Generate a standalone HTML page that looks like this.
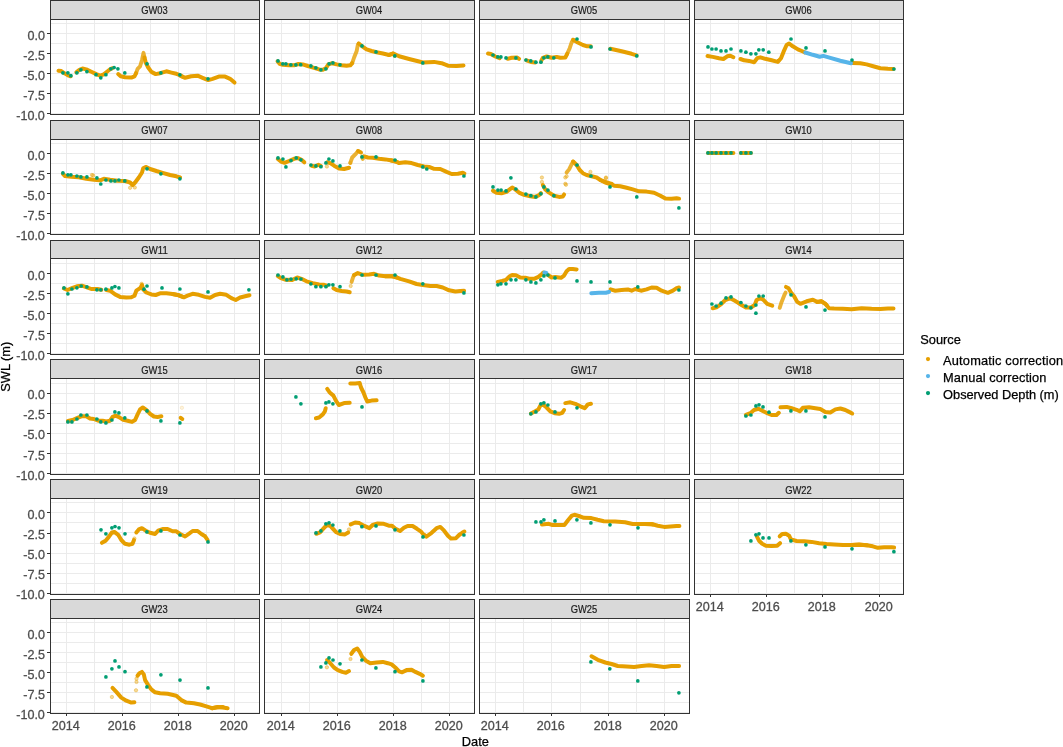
<!DOCTYPE html>
<html><head><meta charset="utf-8"><title>SWL</title>
<style>html,body{margin:0;padding:0;background:#fff}svg{display:block}</style></head>
<body>
<svg width="1063" height="747" viewBox="0 0 1063 747" font-family="&quot;Liberation Sans&quot;, sans-serif">
<rect width="1063" height="747" fill="#fff"/>
<g>
<path d="M50.5 23.5H259.5M50.5 33.5H259.5M50.5 43.5H259.5M50.5 53.5H259.5M50.5 63.5H259.5M50.5 73.5H259.5M50.5 83.5H259.5M50.5 93.5H259.5M50.5 103.5H259.5M50.5 113.5H259.5M66.5 19.5V114.5M94.5 19.5V114.5M122.5 19.5V114.5M150.5 19.5V114.5M178.5 19.5V114.5M206.5 19.5V114.5M234.5 19.5V114.5" stroke="#EBEBEB" stroke-width="1" fill="none" shape-rendering="crispEdges"/>
<clipPath id="c0"><rect x="50.5" y="19.5" width="209.0" height="95.0"/></clipPath>
<g clip-path="url(#c0)">
<polyline points="136.1,73.2 137.6,68.8 140.1,66.3 142.0,60.0 143.5,52.8 144.5,57.5" fill="none" stroke="#E69F00" stroke-opacity="0.8" stroke-width="3.9" stroke-linecap="round" stroke-linejoin="round"/>
<polyline points="58.5,70.7 61.3,71.1 65.0,73.6 68.8,75.7 70.6,76.3" fill="none" stroke="#E69F00" stroke-width="4" stroke-linecap="round" stroke-linejoin="round"/>
<polyline points="76.3,72.3 79.4,69.8 82.5,68.5 86.3,69.4 91.3,71.7 96.3,74.1 100.1,75.7 103.8,74.4 107.6,71.3 110.7,68.8 112.6,68.2" fill="none" stroke="#E69F00" stroke-width="4" stroke-linecap="round" stroke-linejoin="round"/>
<polyline points="118.2,74.1 120.7,76.3 125.1,77.3 131.3,77.6 134.5,76.3 136.1,73.2" fill="none" stroke="#E69F00" stroke-width="4" stroke-linecap="round" stroke-linejoin="round"/>
<polyline points="144.5,57.5 145.7,62.5 148.2,67.5 151.4,71.9 155.7,74.1 160.1,73.2 166.4,71.3 171.4,72.6 176.4,73.8 180.1,75.1 183.0,76.9" fill="none" stroke="#E69F00" stroke-width="4" stroke-linecap="round" stroke-linejoin="round"/>
<polyline points="180.1,75.7 185.1,77.8 191.3,76.3 197.6,75.7 202.6,77.8 208.2,80.1 212.6,78.8 218.8,76.6 225.1,76.6 230.1,78.8 234.5,82.6" fill="none" stroke="#E69F00" stroke-width="4" stroke-linecap="round" stroke-linejoin="round"/>
<circle cx="62.9" cy="72.8" r="1.85" fill="#009E73"/>
<circle cx="67.9" cy="72.8" r="1.85" fill="#009E73"/>
<circle cx="70.9" cy="75.7" r="1.85" fill="#009E73"/>
<circle cx="76.9" cy="72.8" r="1.85" fill="#009E73"/>
<circle cx="80.9" cy="69.8" r="1.85" fill="#009E73"/>
<circle cx="86.9" cy="71.6" r="1.85" fill="#009E73"/>
<circle cx="96.0" cy="74.7" r="1.85" fill="#009E73"/>
<circle cx="100.8" cy="77.8" r="1.85" fill="#009E73"/>
<circle cx="105.9" cy="74.7" r="1.85" fill="#009E73"/>
<circle cx="110.9" cy="68.8" r="1.85" fill="#009E73"/>
<circle cx="114.1" cy="67.5" r="1.85" fill="#009E73"/>
<circle cx="117.9" cy="68.8" r="1.85" fill="#009E73"/>
<circle cx="124.8" cy="72.9" r="1.85" fill="#009E73"/>
<circle cx="147.0" cy="63.8" r="1.85" fill="#009E73"/>
<circle cx="160.9" cy="72.9" r="1.85" fill="#009E73"/>
<circle cx="179.9" cy="74.8" r="1.85" fill="#009E73"/>
<circle cx="208.0" cy="78.8" r="1.85" fill="#009E73"/>
</g>
<rect x="50.5" y="0.5" width="209.0" height="19.0" fill="#D9D9D9" stroke="#333" stroke-width="1" shape-rendering="crispEdges"/>
<rect x="50.5" y="19.5" width="209.0" height="95.0" fill="none" stroke="#333" stroke-width="1" shape-rendering="crispEdges"/>
<text x="154.5" y="14.1" font-size="10.4" fill="#1A1A1A" stroke="#1A1A1A" stroke-width="0.2" text-anchor="middle" textLength="26.5" lengthAdjust="spacingAndGlyphs">GW03</text>
<text x="44.9" y="39.9" font-size="13.1" fill="#4D4D4D" stroke="#4D4D4D" stroke-width="0.3" text-anchor="end" textLength="17.5" lengthAdjust="spacingAndGlyphs">0.0</text>
<text x="44.9" y="59.9" font-size="13.1" fill="#4D4D4D" stroke="#4D4D4D" stroke-width="0.3" text-anchor="end" textLength="21.7" lengthAdjust="spacingAndGlyphs">-2.5</text>
<text x="44.9" y="80.0" font-size="13.1" fill="#4D4D4D" stroke="#4D4D4D" stroke-width="0.3" text-anchor="end" textLength="21.7" lengthAdjust="spacingAndGlyphs">-5.0</text>
<text x="44.9" y="100.0" font-size="13.1" fill="#4D4D4D" stroke="#4D4D4D" stroke-width="0.3" text-anchor="end" textLength="21.7" lengthAdjust="spacingAndGlyphs">-7.5</text>
<text x="44.9" y="120.1" font-size="13.1" fill="#4D4D4D" stroke="#4D4D4D" stroke-width="0.3" text-anchor="end" textLength="28.7" lengthAdjust="spacingAndGlyphs">-10.0</text>
<path d="M47.0 33.5H50.0M47.0 53.5H50.0M47.0 73.5H50.0M47.0 93.5H50.0M47.0 113.5H50.0" stroke="#333" stroke-width="1" shape-rendering="crispEdges"/>
</g>
<g>
<path d="M264.5 23.5H474.5M264.5 33.5H474.5M264.5 43.5H474.5M264.5 53.5H474.5M264.5 63.5H474.5M264.5 73.5H474.5M264.5 83.5H474.5M264.5 93.5H474.5M264.5 103.5H474.5M264.5 113.5H474.5M281.5 19.5V114.5M309.5 19.5V114.5M337.5 19.5V114.5M365.5 19.5V114.5M393.5 19.5V114.5M421.5 19.5V114.5M449.5 19.5V114.5" stroke="#EBEBEB" stroke-width="1" fill="none" shape-rendering="crispEdges"/>
<clipPath id="c1"><rect x="264.5" y="19.5" width="210.0" height="95.0"/></clipPath>
<g clip-path="url(#c1)">
<polyline points="352.2,63.2 354.1,57.5 356.6,51.3 357.8,45.0 358.7,43.5" fill="none" stroke="#E69F00" stroke-opacity="0.8" stroke-width="3.9" stroke-linecap="round" stroke-linejoin="round"/>
<polyline points="277.5,61.3 279.6,63.8 282.8,64.8 289.0,65.3 294.0,65.3 298.4,64.0 302.8,64.4 307.8,66.0 314.1,67.8 319.1,69.4 322.8,69.8 325.9,68.2 328.4,64.4 332.2,63.2 336.6,64.4 341.6,65.3 346.6,65.7 350.3,65.3 352.2,63.2" fill="none" stroke="#E69F00" stroke-width="4" stroke-linecap="round" stroke-linejoin="round"/>
<polyline points="358.7,43.5 362.2,46.3 366.6,49.4 371.6,51.0 376.6,52.3 382.9,53.5 389.1,55.0 392.9,53.5 394.8,55.7" fill="none" stroke="#E69F00" stroke-width="4" stroke-linecap="round" stroke-linejoin="round"/>
<polyline points="389.0,55.0 393.4,53.5 399.1,56.3 409.1,59.0 419.1,61.5 422.8,62.5 434.1,61.9 441.6,63.2 447.9,65.7 456.6,65.9 463.5,65.4" fill="none" stroke="#E69F00" stroke-width="4" stroke-linecap="round" stroke-linejoin="round"/>
<circle cx="278.0" cy="60.9" r="1.85" fill="#009E73"/>
<circle cx="282.8" cy="63.8" r="1.85" fill="#009E73"/>
<circle cx="285.9" cy="63.8" r="1.85" fill="#009E73"/>
<circle cx="290.9" cy="64.8" r="1.85" fill="#009E73"/>
<circle cx="295.9" cy="64.8" r="1.85" fill="#009E73"/>
<circle cx="300.7" cy="64.7" r="1.85" fill="#009E73"/>
<circle cx="310.9" cy="65.9" r="1.85" fill="#009E73"/>
<circle cx="315.9" cy="67.8" r="1.85" fill="#009E73"/>
<circle cx="320.9" cy="69.8" r="1.85" fill="#009E73"/>
<circle cx="325.9" cy="68.8" r="1.85" fill="#009E73"/>
<circle cx="329.1" cy="63.8" r="1.85" fill="#009E73"/>
<circle cx="332.9" cy="62.9" r="1.85" fill="#009E73"/>
<circle cx="340.0" cy="64.8" r="1.85" fill="#009E73"/>
<circle cx="362.0" cy="45.9" r="1.85" fill="#009E73"/>
<circle cx="376.0" cy="51.9" r="1.85" fill="#009E73"/>
<circle cx="394.8" cy="55.9" r="1.85" fill="#009E73"/>
<circle cx="422.8" cy="62.9" r="1.85" fill="#009E73"/>
</g>
<rect x="264.5" y="0.5" width="210.0" height="19.0" fill="#D9D9D9" stroke="#333" stroke-width="1" shape-rendering="crispEdges"/>
<rect x="264.5" y="19.5" width="210.0" height="95.0" fill="none" stroke="#333" stroke-width="1" shape-rendering="crispEdges"/>
<text x="369.0" y="14.1" font-size="10.4" fill="#1A1A1A" stroke="#1A1A1A" stroke-width="0.2" text-anchor="middle" textLength="26.5" lengthAdjust="spacingAndGlyphs">GW04</text>
</g>
<g>
<path d="M479.5 23.5H689.5M479.5 33.5H689.5M479.5 43.5H689.5M479.5 53.5H689.5M479.5 63.5H689.5M479.5 73.5H689.5M479.5 83.5H689.5M479.5 93.5H689.5M479.5 103.5H689.5M479.5 113.5H689.5M495.5 19.5V114.5M523.5 19.5V114.5M551.5 19.5V114.5M580.5 19.5V114.5M608.5 19.5V114.5M636.5 19.5V114.5M664.5 19.5V114.5" stroke="#EBEBEB" stroke-width="1" fill="none" shape-rendering="crispEdges"/>
<clipPath id="c2"><rect x="479.5" y="19.5" width="210.0" height="95.0"/></clipPath>
<g clip-path="url(#c2)">
<polyline points="567.2,53.8 569.7,48.2 571.6,42.5 573.1,39.8" fill="none" stroke="#E69F00" stroke-opacity="0.8" stroke-width="3.9" stroke-linecap="round" stroke-linejoin="round"/>
<polyline points="488.0,53.5 490.9,54.0 495.3,56.5 499.6,58.2" fill="none" stroke="#E69F00" stroke-width="4" stroke-linecap="round" stroke-linejoin="round"/>
<polyline points="507.8,58.8 511.5,57.8 517.2,57.5 519.0,58.8" fill="none" stroke="#E69F00" stroke-width="4" stroke-linecap="round" stroke-linejoin="round"/>
<polyline points="526.5,60.3 530.9,61.9 535.3,62.5" fill="none" stroke="#E69F00" stroke-width="4" stroke-linecap="round" stroke-linejoin="round"/>
<polyline points="541.3,60.7 542.8,57.8 546.6,56.5 551.6,57.8 556.6,56.9 560.3,57.8 565.3,57.5 567.2,53.8" fill="none" stroke="#E69F00" stroke-width="4" stroke-linecap="round" stroke-linejoin="round"/>
<polyline points="573.1,39.8 577.8,42.5 582.9,45.0 587.2,46.3 590.7,46.3" fill="none" stroke="#E69F00" stroke-width="4" stroke-linecap="round" stroke-linejoin="round"/>
<polyline points="610.3,48.8 621.6,51.3 631.6,53.8 636.6,55.3" fill="none" stroke="#E69F00" stroke-width="4" stroke-linecap="round" stroke-linejoin="round"/>
<circle cx="493.0" cy="55.0" r="1.85" fill="#009E73"/>
<circle cx="497.8" cy="56.9" r="1.85" fill="#009E73"/>
<circle cx="500.9" cy="56.9" r="1.85" fill="#009E73"/>
<circle cx="506.0" cy="57.9" r="1.85" fill="#009E73"/>
<circle cx="515.9" cy="57.9" r="1.85" fill="#009E73"/>
<circle cx="525.9" cy="60.0" r="1.85" fill="#009E73"/>
<circle cx="530.8" cy="60.9" r="1.85" fill="#009E73"/>
<circle cx="535.9" cy="62.2" r="1.85" fill="#009E73"/>
<circle cx="540.9" cy="62.2" r="1.85" fill="#009E73"/>
<circle cx="543.9" cy="57.8" r="1.85" fill="#009E73"/>
<circle cx="547.8" cy="56.9" r="1.85" fill="#009E73"/>
<circle cx="553.8" cy="57.8" r="1.85" fill="#009E73"/>
<circle cx="577.0" cy="39.0" r="1.85" fill="#009E73"/>
<circle cx="591.0" cy="46.9" r="1.85" fill="#009E73"/>
<circle cx="610.0" cy="49.0" r="1.85" fill="#009E73"/>
<circle cx="636.8" cy="55.9" r="1.85" fill="#009E73"/>
</g>
<rect x="479.5" y="0.5" width="210.0" height="19.0" fill="#D9D9D9" stroke="#333" stroke-width="1" shape-rendering="crispEdges"/>
<rect x="479.5" y="19.5" width="210.0" height="95.0" fill="none" stroke="#333" stroke-width="1" shape-rendering="crispEdges"/>
<text x="584.0" y="14.1" font-size="10.4" fill="#1A1A1A" stroke="#1A1A1A" stroke-width="0.2" text-anchor="middle" textLength="26.5" lengthAdjust="spacingAndGlyphs">GW05</text>
</g>
<g>
<path d="M694.5 23.5H903.5M694.5 33.5H903.5M694.5 43.5H903.5M694.5 53.5H903.5M694.5 63.5H903.5M694.5 73.5H903.5M694.5 83.5H903.5M694.5 93.5H903.5M694.5 103.5H903.5M694.5 113.5H903.5M710.5 19.5V114.5M738.5 19.5V114.5M766.5 19.5V114.5M794.5 19.5V114.5M822.5 19.5V114.5M851.5 19.5V114.5M879.5 19.5V114.5" stroke="#EBEBEB" stroke-width="1" fill="none" shape-rendering="crispEdges"/>
<clipPath id="c3"><rect x="694.5" y="19.5" width="209.0" height="95.0"/></clipPath>
<g clip-path="url(#c3)">
<polyline points="707.5,56.0 712.8,56.9 719.0,58.2 723.4,59.0 727.2,56.3 730.3,55.7 733.4,57.2" fill="none" stroke="#E69F00" stroke-width="4" stroke-linecap="round" stroke-linejoin="round"/>
<polyline points="740.5,59.0 744.1,60.3 749.1,60.9 754.1,62.2 757.2,58.2 760.3,57.3 765.3,58.8 771.6,60.3 777.8,61.9 781.0,58.2 783.5,51.9 786.6,45.0 789.1,43.5 792.8,46.3 797.9,49.4 802.9,51.5 804.7,52.3" fill="none" stroke="#E69F00" stroke-width="4" stroke-linecap="round" stroke-linejoin="round"/>
<polyline points="852.2,62.9 860.3,63.2 866.6,64.4 874.1,66.5 880.4,68.2 887.9,68.8 893.5,69.0" fill="none" stroke="#E69F00" stroke-width="4" stroke-linecap="round" stroke-linejoin="round"/>
<polyline points="805.3,52.5 812.8,54.8 819.7,56.7 823.4,55.9 830.3,57.9 840.3,60.7 851.0,63.2" fill="none" stroke="#56B4E9" stroke-width="4" stroke-linecap="round" stroke-linejoin="round"/>
<circle cx="708.0" cy="46.9" r="1.85" fill="#009E73"/>
<circle cx="711.9" cy="49.0" r="1.85" fill="#009E73"/>
<circle cx="716.1" cy="49.0" r="1.85" fill="#009E73"/>
<circle cx="721.0" cy="50.9" r="1.85" fill="#009E73"/>
<circle cx="726.0" cy="50.9" r="1.85" fill="#009E73"/>
<circle cx="731.0" cy="49.0" r="1.85" fill="#009E73"/>
<circle cx="740.9" cy="50.9" r="1.85" fill="#009E73"/>
<circle cx="745.9" cy="52.2" r="1.85" fill="#009E73"/>
<circle cx="750.9" cy="53.8" r="1.85" fill="#009E73"/>
<circle cx="755.9" cy="53.8" r="1.85" fill="#009E73"/>
<circle cx="758.8" cy="49.8" r="1.85" fill="#009E73"/>
<circle cx="763.2" cy="49.8" r="1.85" fill="#009E73"/>
<circle cx="768.8" cy="52.2" r="1.85" fill="#009E73"/>
<circle cx="791.0" cy="39.0" r="1.85" fill="#009E73"/>
<circle cx="806.0" cy="47.9" r="1.85" fill="#009E73"/>
<circle cx="825.0" cy="50.9" r="1.85" fill="#009E73"/>
<circle cx="852.0" cy="60.0" r="1.85" fill="#009E73"/>
<circle cx="893.9" cy="69.0" r="1.85" fill="#009E73"/>
</g>
<rect x="694.5" y="0.5" width="209.0" height="19.0" fill="#D9D9D9" stroke="#333" stroke-width="1" shape-rendering="crispEdges"/>
<rect x="694.5" y="19.5" width="209.0" height="95.0" fill="none" stroke="#333" stroke-width="1" shape-rendering="crispEdges"/>
<text x="798.5" y="14.1" font-size="10.4" fill="#1A1A1A" stroke="#1A1A1A" stroke-width="0.2" text-anchor="middle" textLength="26.5" lengthAdjust="spacingAndGlyphs">GW06</text>
</g>
<g>
<path d="M50.5 143.5H259.5M50.5 153.5H259.5M50.5 163.5H259.5M50.5 173.5H259.5M50.5 183.5H259.5M50.5 193.5H259.5M50.5 203.5H259.5M50.5 213.5H259.5M50.5 223.5H259.5M50.5 233.5H259.5M66.5 139.5V234.5M94.5 139.5V234.5M122.5 139.5V234.5M150.5 139.5V234.5M178.5 139.5V234.5M206.5 139.5V234.5M234.5 139.5V234.5" stroke="#EBEBEB" stroke-width="1" fill="none" shape-rendering="crispEdges"/>
<clipPath id="c4"><rect x="50.5" y="139.5" width="209.0" height="95.0"/></clipPath>
<g clip-path="url(#c4)">
<circle cx="91.9" cy="175.0" r="1.7" fill="#E69F00" fill-opacity="0.4" stroke="#E69F00" stroke-opacity="0.45" stroke-width="0.8"/>
<circle cx="93.2" cy="175.4" r="1.7" fill="#E69F00" fill-opacity="0.4" stroke="#E69F00" stroke-opacity="0.45" stroke-width="0.8"/>
<circle cx="130.1" cy="187.8" r="1.7" fill="#E69F00" fill-opacity="0.4" stroke="#E69F00" stroke-opacity="0.45" stroke-width="0.8"/>
<circle cx="134.8" cy="187.5" r="1.7" fill="#E69F00" fill-opacity="0.4" stroke="#E69F00" stroke-opacity="0.45" stroke-width="0.8"/>
<polyline points="62.9,173.8 65.0,176.0 71.3,176.7 78.8,177.3 86.3,178.8 93.8,179.8 100.1,180.3 103.8,178.8 110.1,179.8 117.6,180.7 125.1,181.0 130.1,182.5 132.6,185.0 135.1,182.5 138.8,177.5 142.0,172.5 143.2,168.2 145.7,166.9 150.1,169.0 156.4,171.0 162.6,172.8 170.1,175.0 176.4,176.3 180.1,177.5" fill="none" stroke="#E69F00" stroke-width="4" stroke-linecap="round" stroke-linejoin="round"/>
<circle cx="62.9" cy="172.9" r="1.85" fill="#009E73"/>
<circle cx="67.9" cy="174.8" r="1.85" fill="#009E73"/>
<circle cx="70.9" cy="174.8" r="1.85" fill="#009E73"/>
<circle cx="76.9" cy="176.0" r="1.85" fill="#009E73"/>
<circle cx="80.9" cy="176.9" r="1.85" fill="#009E73"/>
<circle cx="86.9" cy="176.9" r="1.85" fill="#009E73"/>
<circle cx="96.9" cy="177.9" r="1.85" fill="#009E73"/>
<circle cx="100.8" cy="184.0" r="1.85" fill="#009E73"/>
<circle cx="105.9" cy="180.0" r="1.85" fill="#009E73"/>
<circle cx="110.9" cy="180.9" r="1.85" fill="#009E73"/>
<circle cx="114.9" cy="180.9" r="1.85" fill="#009E73"/>
<circle cx="118.9" cy="180.0" r="1.85" fill="#009E73"/>
<circle cx="124.8" cy="180.9" r="1.85" fill="#009E73"/>
<circle cx="147.0" cy="168.8" r="1.85" fill="#009E73"/>
<circle cx="160.9" cy="173.8" r="1.85" fill="#009E73"/>
<circle cx="179.9" cy="178.8" r="1.85" fill="#009E73"/>
</g>
<rect x="50.5" y="120.5" width="209.0" height="19.0" fill="#D9D9D9" stroke="#333" stroke-width="1" shape-rendering="crispEdges"/>
<rect x="50.5" y="139.5" width="209.0" height="95.0" fill="none" stroke="#333" stroke-width="1" shape-rendering="crispEdges"/>
<text x="154.5" y="134.1" font-size="10.4" fill="#1A1A1A" stroke="#1A1A1A" stroke-width="0.2" text-anchor="middle" textLength="26.5" lengthAdjust="spacingAndGlyphs">GW07</text>
<text x="44.9" y="159.7" font-size="13.1" fill="#4D4D4D" stroke="#4D4D4D" stroke-width="0.3" text-anchor="end" textLength="17.5" lengthAdjust="spacingAndGlyphs">0.0</text>
<text x="44.9" y="179.7" font-size="13.1" fill="#4D4D4D" stroke="#4D4D4D" stroke-width="0.3" text-anchor="end" textLength="21.7" lengthAdjust="spacingAndGlyphs">-2.5</text>
<text x="44.9" y="199.8" font-size="13.1" fill="#4D4D4D" stroke="#4D4D4D" stroke-width="0.3" text-anchor="end" textLength="21.7" lengthAdjust="spacingAndGlyphs">-5.0</text>
<text x="44.9" y="219.8" font-size="13.1" fill="#4D4D4D" stroke="#4D4D4D" stroke-width="0.3" text-anchor="end" textLength="21.7" lengthAdjust="spacingAndGlyphs">-7.5</text>
<text x="44.9" y="239.9" font-size="13.1" fill="#4D4D4D" stroke="#4D4D4D" stroke-width="0.3" text-anchor="end" textLength="28.7" lengthAdjust="spacingAndGlyphs">-10.0</text>
<path d="M47.0 153.5H50.0M47.0 173.5H50.0M47.0 193.5H50.0M47.0 213.5H50.0M47.0 233.5H50.0" stroke="#333" stroke-width="1" shape-rendering="crispEdges"/>
</g>
<g>
<path d="M264.5 143.5H474.5M264.5 153.5H474.5M264.5 163.5H474.5M264.5 173.5H474.5M264.5 183.5H474.5M264.5 193.5H474.5M264.5 203.5H474.5M264.5 213.5H474.5M264.5 223.5H474.5M264.5 233.5H474.5M281.5 139.5V234.5M309.5 139.5V234.5M337.5 139.5V234.5M365.5 139.5V234.5M393.5 139.5V234.5M421.5 139.5V234.5M449.5 139.5V234.5" stroke="#EBEBEB" stroke-width="1" fill="none" shape-rendering="crispEdges"/>
<clipPath id="c5"><rect x="264.5" y="139.5" width="210.0" height="95.0"/></clipPath>
<g clip-path="url(#c5)">
<circle cx="326.9" cy="166.5" r="1.7" fill="#E69F00" fill-opacity="0.4" stroke="#E69F00" stroke-opacity="0.45" stroke-width="0.8"/>
<circle cx="350.3" cy="162.9" r="1.7" fill="#E69F00" fill-opacity="0.4" stroke="#E69F00" stroke-opacity="0.45" stroke-width="0.8"/>
<polyline points="350.3,162.9 352.2,157.5 355.3,154.4 358.1,151.0" fill="none" stroke="#E69F00" stroke-opacity="0.8" stroke-width="3.9" stroke-linecap="round" stroke-linejoin="round"/>
<polyline points="362.2,156.9 362.8,159.0" fill="none" stroke="#E69F00" stroke-opacity="0.8" stroke-width="3.9" stroke-linecap="round" stroke-linejoin="round"/>
<polyline points="277.8,159.0 280.9,161.5 284.6,162.8 289.0,161.0 294.0,158.8 297.8,158.1 301.5,159.8 304.3,162.3" fill="none" stroke="#E69F00" stroke-width="4" stroke-linecap="round" stroke-linejoin="round"/>
<polyline points="311.5,165.7 314.7,166.5 318.4,164.8 320.9,166.0" fill="none" stroke="#E69F00" stroke-width="4" stroke-linecap="round" stroke-linejoin="round"/>
<polyline points="327.2,162.3 330.3,163.1 334.1,165.7 339.1,168.5 344.1,169.0 349.1,167.8" fill="none" stroke="#E69F00" stroke-width="4" stroke-linecap="round" stroke-linejoin="round"/>
<polyline points="358.1,151.0 361.0,152.5" fill="none" stroke="#E69F00" stroke-width="4" stroke-linecap="round" stroke-linejoin="round"/>
<polyline points="364.1,156.3 367.9,157.5 372.9,157.8 379.1,158.8 385.4,159.4 390.4,160.3 394.1,161.3 397.0,161.9" fill="none" stroke="#E69F00" stroke-width="4" stroke-linecap="round" stroke-linejoin="round"/>
<polyline points="390.9,160.3 395.3,161.3 399.1,163.1 405.3,162.3 411.6,163.1 417.8,165.0 424.1,166.5 429.1,166.9 434.1,168.8 440.3,169.0 446.6,171.9 451.6,174.0 457.9,173.8 462.9,172.8 464.4,173.5" fill="none" stroke="#E69F00" stroke-width="4" stroke-linecap="round" stroke-linejoin="round"/>
<circle cx="278.0" cy="157.9" r="1.85" fill="#009E73"/>
<circle cx="282.9" cy="159.0" r="1.85" fill="#009E73"/>
<circle cx="285.9" cy="166.9" r="1.85" fill="#009E73"/>
<circle cx="291.0" cy="160.6" r="1.85" fill="#009E73"/>
<circle cx="296.2" cy="157.9" r="1.85" fill="#009E73"/>
<circle cx="300.9" cy="159.8" r="1.85" fill="#009E73"/>
<circle cx="310.9" cy="165.0" r="1.85" fill="#009E73"/>
<circle cx="315.9" cy="165.9" r="1.85" fill="#009E73"/>
<circle cx="320.9" cy="166.7" r="1.85" fill="#009E73"/>
<circle cx="325.9" cy="162.9" r="1.85" fill="#009E73"/>
<circle cx="328.9" cy="159.0" r="1.85" fill="#009E73"/>
<circle cx="332.9" cy="160.9" r="1.85" fill="#009E73"/>
<circle cx="340.0" cy="165.9" r="1.85" fill="#009E73"/>
<circle cx="362.0" cy="156.9" r="1.85" fill="#009E73"/>
<circle cx="376.0" cy="156.9" r="1.85" fill="#009E73"/>
<circle cx="395.0" cy="160.0" r="1.85" fill="#009E73"/>
<circle cx="422.8" cy="166.9" r="1.85" fill="#009E73"/>
<circle cx="426.8" cy="169.0" r="1.85" fill="#009E73"/>
<circle cx="463.9" cy="176.0" r="1.85" fill="#009E73"/>
</g>
<rect x="264.5" y="120.5" width="210.0" height="19.0" fill="#D9D9D9" stroke="#333" stroke-width="1" shape-rendering="crispEdges"/>
<rect x="264.5" y="139.5" width="210.0" height="95.0" fill="none" stroke="#333" stroke-width="1" shape-rendering="crispEdges"/>
<text x="369.0" y="134.1" font-size="10.4" fill="#1A1A1A" stroke="#1A1A1A" stroke-width="0.2" text-anchor="middle" textLength="26.5" lengthAdjust="spacingAndGlyphs">GW08</text>
</g>
<g>
<path d="M479.5 143.5H689.5M479.5 153.5H689.5M479.5 163.5H689.5M479.5 173.5H689.5M479.5 183.5H689.5M479.5 193.5H689.5M479.5 203.5H689.5M479.5 213.5H689.5M479.5 223.5H689.5M479.5 233.5H689.5M495.5 139.5V234.5M523.5 139.5V234.5M551.5 139.5V234.5M580.5 139.5V234.5M608.5 139.5V234.5M636.5 139.5V234.5M664.5 139.5V234.5" stroke="#EBEBEB" stroke-width="1" fill="none" shape-rendering="crispEdges"/>
<clipPath id="c6"><rect x="479.5" y="139.5" width="210.0" height="95.0"/></clipPath>
<g clip-path="url(#c6)">
<circle cx="541.9" cy="177.5" r="1.7" fill="#E69F00" fill-opacity="0.4" stroke="#E69F00" stroke-opacity="0.45" stroke-width="0.8"/>
<circle cx="541.9" cy="181.9" r="1.7" fill="#E69F00" fill-opacity="0.4" stroke="#E69F00" stroke-opacity="0.45" stroke-width="0.8"/>
<circle cx="565.3" cy="183.8" r="1.7" fill="#E69F00" fill-opacity="0.4" stroke="#E69F00" stroke-opacity="0.45" stroke-width="0.8"/>
<circle cx="566.0" cy="184.8" r="1.7" fill="#E69F00" fill-opacity="0.4" stroke="#E69F00" stroke-opacity="0.45" stroke-width="0.8"/>
<circle cx="566.6" cy="176.3" r="1.7" fill="#E69F00" fill-opacity="0.4" stroke="#E69F00" stroke-opacity="0.45" stroke-width="0.8"/>
<circle cx="565.3" cy="177.5" r="1.7" fill="#E69F00" fill-opacity="0.4" stroke="#E69F00" stroke-opacity="0.45" stroke-width="0.8"/>
<circle cx="590.4" cy="171.9" r="1.7" fill="#E69F00" fill-opacity="0.4" stroke="#E69F00" stroke-opacity="0.45" stroke-width="0.8"/>
<circle cx="606.0" cy="177.5" r="1.7" fill="#E69F00" fill-opacity="0.4" stroke="#E69F00" stroke-opacity="0.45" stroke-width="0.8"/>
<circle cx="605.9" cy="178.2" r="1.7" fill="#E69F00" fill-opacity="0.4" stroke="#E69F00" stroke-opacity="0.45" stroke-width="0.8"/>
<polyline points="566.6,172.5 569.1,169.4 571.6,164.4 573.1,161.5" fill="none" stroke="#E69F00" stroke-opacity="0.8" stroke-width="3.9" stroke-linecap="round" stroke-linejoin="round"/>
<polyline points="493.0,190.7 496.5,192.8 501.5,193.2 506.5,191.9 509.7,189.4 512.2,187.5 515.3,189.4 519.0,192.6 524.0,194.8 530.3,196.3 535.3,196.9 539.1,195.1 540.9,193.2" fill="none" stroke="#E69F00" stroke-width="4" stroke-linecap="round" stroke-linejoin="round"/>
<polyline points="542.8,185.0 545.3,189.4 549.1,192.6 554.1,195.7 559.1,196.9 562.8,196.6 564.1,194.4" fill="none" stroke="#E69F00" stroke-width="4" stroke-linecap="round" stroke-linejoin="round"/>
<polyline points="573.1,161.5 576.6,165.0 579.7,170.0 582.9,173.2 586.6,175.0 591.6,176.3 596.6,177.5 600.4,180.0 605.4,181.9 609.1,183.2 612.0,184.0" fill="none" stroke="#E69F00" stroke-width="4" stroke-linecap="round" stroke-linejoin="round"/>
<polyline points="600.3,180.0 605.3,182.5 610.3,184.0 614.1,185.7 620.3,186.3 626.6,187.8 632.8,189.4 639.1,191.3 646.6,191.6 654.1,192.8 660.4,195.7 665.4,198.6 671.6,198.8 676.6,198.2 679.1,198.6" fill="none" stroke="#E69F00" stroke-width="4" stroke-linecap="round" stroke-linejoin="round"/>
<circle cx="493.0" cy="186.9" r="1.85" fill="#009E73"/>
<circle cx="497.9" cy="190.1" r="1.85" fill="#009E73"/>
<circle cx="501.1" cy="190.1" r="1.85" fill="#009E73"/>
<circle cx="506.0" cy="190.9" r="1.85" fill="#009E73"/>
<circle cx="510.9" cy="177.8" r="1.85" fill="#009E73"/>
<circle cx="515.9" cy="189.0" r="1.85" fill="#009E73"/>
<circle cx="525.9" cy="194.1" r="1.85" fill="#009E73"/>
<circle cx="530.9" cy="195.7" r="1.85" fill="#009E73"/>
<circle cx="535.9" cy="196.9" r="1.85" fill="#009E73"/>
<circle cx="540.9" cy="193.8" r="1.85" fill="#009E73"/>
<circle cx="543.9" cy="186.9" r="1.85" fill="#009E73"/>
<circle cx="547.9" cy="190.1" r="1.85" fill="#009E73"/>
<circle cx="553.9" cy="195.7" r="1.85" fill="#009E73"/>
<circle cx="577.0" cy="165.0" r="1.85" fill="#009E73"/>
<circle cx="591.0" cy="176.0" r="1.85" fill="#009E73"/>
<circle cx="610.0" cy="186.9" r="1.85" fill="#009E73"/>
<circle cx="636.8" cy="196.9" r="1.85" fill="#009E73"/>
<circle cx="678.9" cy="207.9" r="1.85" fill="#009E73"/>
</g>
<rect x="479.5" y="120.5" width="210.0" height="19.0" fill="#D9D9D9" stroke="#333" stroke-width="1" shape-rendering="crispEdges"/>
<rect x="479.5" y="139.5" width="210.0" height="95.0" fill="none" stroke="#333" stroke-width="1" shape-rendering="crispEdges"/>
<text x="584.0" y="134.1" font-size="10.4" fill="#1A1A1A" stroke="#1A1A1A" stroke-width="0.2" text-anchor="middle" textLength="26.5" lengthAdjust="spacingAndGlyphs">GW09</text>
</g>
<g>
<path d="M694.5 143.5H903.5M694.5 153.5H903.5M694.5 163.5H903.5M694.5 173.5H903.5M694.5 183.5H903.5M694.5 193.5H903.5M694.5 203.5H903.5M694.5 213.5H903.5M694.5 223.5H903.5M694.5 233.5H903.5M710.5 139.5V234.5M738.5 139.5V234.5M766.5 139.5V234.5M794.5 139.5V234.5M822.5 139.5V234.5M851.5 139.5V234.5M879.5 139.5V234.5" stroke="#EBEBEB" stroke-width="1" fill="none" shape-rendering="crispEdges"/>
<clipPath id="c7"><rect x="694.5" y="139.5" width="209.0" height="95.0"/></clipPath>
<g clip-path="url(#c7)">
<polyline points="708.0,152.9 733.4,152.9" fill="none" stroke="#E69F00" stroke-width="4" stroke-linecap="round" stroke-linejoin="round"/>
<polyline points="740.9,152.9 750.9,152.9" fill="none" stroke="#E69F00" stroke-width="4" stroke-linecap="round" stroke-linejoin="round"/>
<circle cx="708.0" cy="152.9" r="1.85" fill="#009E73"/>
<circle cx="711.9" cy="152.9" r="1.85" fill="#009E73"/>
<circle cx="716.1" cy="152.9" r="1.85" fill="#009E73"/>
<circle cx="721.0" cy="152.9" r="1.85" fill="#009E73"/>
<circle cx="726.0" cy="152.9" r="1.85" fill="#009E73"/>
<circle cx="731.0" cy="152.9" r="1.85" fill="#009E73"/>
<circle cx="740.9" cy="152.9" r="1.85" fill="#009E73"/>
<circle cx="745.9" cy="152.9" r="1.85" fill="#009E73"/>
<circle cx="750.9" cy="152.9" r="1.85" fill="#009E73"/>
</g>
<rect x="694.5" y="120.5" width="209.0" height="19.0" fill="#D9D9D9" stroke="#333" stroke-width="1" shape-rendering="crispEdges"/>
<rect x="694.5" y="139.5" width="209.0" height="95.0" fill="none" stroke="#333" stroke-width="1" shape-rendering="crispEdges"/>
<text x="798.5" y="134.1" font-size="10.4" fill="#1A1A1A" stroke="#1A1A1A" stroke-width="0.2" text-anchor="middle" textLength="26.5" lengthAdjust="spacingAndGlyphs">GW10</text>
</g>
<g>
<path d="M50.5 263.5H259.5M50.5 273.5H259.5M50.5 283.5H259.5M50.5 293.5H259.5M50.5 303.5H259.5M50.5 313.5H259.5M50.5 323.5H259.5M50.5 333.5H259.5M50.5 343.5H259.5M50.5 353.5H259.5M66.5 258.5V354.5M94.5 258.5V354.5M122.5 258.5V354.5M150.5 258.5V354.5M178.5 258.5V354.5M206.5 258.5V354.5M234.5 258.5V354.5" stroke="#EBEBEB" stroke-width="1" fill="none" shape-rendering="crispEdges"/>
<clipPath id="c8"><rect x="50.5" y="258.5" width="209.0" height="96.0"/></clipPath>
<g clip-path="url(#c8)">
<circle cx="141.7" cy="283.8" r="1.7" fill="#E69F00" fill-opacity="0.4" stroke="#E69F00" stroke-opacity="0.45" stroke-width="0.8"/>
<polyline points="63.8,288.5 67.5,290.0 71.9,288.2 76.9,286.3 81.9,285.7 86.9,287.3 91.3,289.0 97.5,289.0 101.3,289.8" fill="none" stroke="#E69F00" stroke-width="4" stroke-linecap="round" stroke-linejoin="round"/>
<polyline points="106.3,290.0 110.1,290.7 115.1,294.4 120.1,296.9 126.3,297.5 131.3,297.3 134.5,295.7 136.3,290.7 140.1,288.2 142.0,285.0 143.2,289.4 146.3,292.5 151.4,294.4 155.7,295.0 160.7,293.2 166.4,293.2 172.6,294.0 178.9,295.3 183.0,296.9" fill="none" stroke="#E69F00" stroke-width="4" stroke-linecap="round" stroke-linejoin="round"/>
<polyline points="172.5,294.0 178.8,295.3 183.8,297.3 187.6,295.7 192.6,293.8 198.8,294.8 205.1,296.9 210.1,297.8 215.1,295.0 220.1,293.8 226.3,294.8 231.4,298.2 235.7,300.0 240.1,297.5 245.1,296.3 249.5,295.3" fill="none" stroke="#E69F00" stroke-width="4" stroke-linecap="round" stroke-linejoin="round"/>
<circle cx="64.0" cy="287.9" r="1.85" fill="#009E73"/>
<circle cx="67.9" cy="293.8" r="1.85" fill="#009E73"/>
<circle cx="71.9" cy="289.0" r="1.85" fill="#009E73"/>
<circle cx="76.9" cy="287.8" r="1.85" fill="#009E73"/>
<circle cx="81.2" cy="286.0" r="1.85" fill="#009E73"/>
<circle cx="86.9" cy="286.9" r="1.85" fill="#009E73"/>
<circle cx="96.9" cy="289.8" r="1.85" fill="#009E73"/>
<circle cx="100.8" cy="289.8" r="1.85" fill="#009E73"/>
<circle cx="105.9" cy="289.2" r="1.85" fill="#009E73"/>
<circle cx="111.9" cy="287.9" r="1.85" fill="#009E73"/>
<circle cx="114.9" cy="286.5" r="1.85" fill="#009E73"/>
<circle cx="118.9" cy="287.9" r="1.85" fill="#009E73"/>
<circle cx="144.0" cy="289.2" r="1.85" fill="#009E73"/>
<circle cx="147.0" cy="286.0" r="1.85" fill="#009E73"/>
<circle cx="162.0" cy="287.9" r="1.85" fill="#009E73"/>
<circle cx="179.9" cy="289.0" r="1.85" fill="#009E73"/>
<circle cx="208.0" cy="291.9" r="1.85" fill="#009E73"/>
<circle cx="248.9" cy="289.8" r="1.85" fill="#009E73"/>
</g>
<rect x="50.5" y="240.5" width="209.0" height="18.0" fill="#D9D9D9" stroke="#333" stroke-width="1" shape-rendering="crispEdges"/>
<rect x="50.5" y="258.5" width="209.0" height="96.0" fill="none" stroke="#333" stroke-width="1" shape-rendering="crispEdges"/>
<text x="154.5" y="254.1" font-size="10.4" fill="#1A1A1A" stroke="#1A1A1A" stroke-width="0.2" text-anchor="middle" textLength="26.5" lengthAdjust="spacingAndGlyphs">GW11</text>
<text x="44.9" y="279.5" font-size="13.1" fill="#4D4D4D" stroke="#4D4D4D" stroke-width="0.3" text-anchor="end" textLength="17.5" lengthAdjust="spacingAndGlyphs">0.0</text>
<text x="44.9" y="299.5" font-size="13.1" fill="#4D4D4D" stroke="#4D4D4D" stroke-width="0.3" text-anchor="end" textLength="21.7" lengthAdjust="spacingAndGlyphs">-2.5</text>
<text x="44.9" y="319.6" font-size="13.1" fill="#4D4D4D" stroke="#4D4D4D" stroke-width="0.3" text-anchor="end" textLength="21.7" lengthAdjust="spacingAndGlyphs">-5.0</text>
<text x="44.9" y="339.7" font-size="13.1" fill="#4D4D4D" stroke="#4D4D4D" stroke-width="0.3" text-anchor="end" textLength="21.7" lengthAdjust="spacingAndGlyphs">-7.5</text>
<text x="44.9" y="359.7" font-size="13.1" fill="#4D4D4D" stroke="#4D4D4D" stroke-width="0.3" text-anchor="end" textLength="28.7" lengthAdjust="spacingAndGlyphs">-10.0</text>
<path d="M47.0 273.5H50.0M47.0 293.5H50.0M47.0 313.5H50.0M47.0 333.5H50.0M47.0 353.5H50.0" stroke="#333" stroke-width="1" shape-rendering="crispEdges"/>
</g>
<g>
<path d="M264.5 263.5H474.5M264.5 273.5H474.5M264.5 283.5H474.5M264.5 293.5H474.5M264.5 303.5H474.5M264.5 313.5H474.5M264.5 323.5H474.5M264.5 333.5H474.5M264.5 343.5H474.5M264.5 353.5H474.5M281.5 258.5V354.5M309.5 258.5V354.5M337.5 258.5V354.5M365.5 258.5V354.5M393.5 258.5V354.5M421.5 258.5V354.5M449.5 258.5V354.5" stroke="#EBEBEB" stroke-width="1" fill="none" shape-rendering="crispEdges"/>
<clipPath id="c9"><rect x="264.5" y="258.5" width="210.0" height="96.0"/></clipPath>
<g clip-path="url(#c9)">
<circle cx="350.7" cy="286.0" r="1.7" fill="#E69F00" fill-opacity="0.4" stroke="#E69F00" stroke-opacity="0.45" stroke-width="0.8"/>
<polyline points="351.6,281.9 352.8,278.1 354.1,275.0" fill="none" stroke="#E69F00" stroke-opacity="0.8" stroke-width="3.9" stroke-linecap="round" stroke-linejoin="round"/>
<polyline points="277.8,276.0 280.9,278.1 285.9,279.8 292.2,280.0 297.2,277.5 301.5,278.8 306.5,281.3 312.8,283.1 319.1,284.4 324.1,284.8 326.6,285.7" fill="none" stroke="#E69F00" stroke-width="4" stroke-linecap="round" stroke-linejoin="round"/>
<polyline points="333.4,288.2 336.6,290.0 341.6,291.0 346.6,291.5 349.7,292.3" fill="none" stroke="#E69F00" stroke-width="4" stroke-linecap="round" stroke-linejoin="round"/>
<polyline points="354.1,275.0 357.8,273.1 362.8,274.8 369.1,274.4 374.1,273.8 379.1,275.6 385.4,276.3 391.6,276.3 397.0,277.5" fill="none" stroke="#E69F00" stroke-width="4" stroke-linecap="round" stroke-linejoin="round"/>
<polyline points="385.3,276.3 394.1,276.3 400.3,278.8 409.1,281.3 416.6,284.0 422.8,285.0 430.3,286.0 436.6,286.0 442.8,287.5 449.1,290.3 455.4,291.5 460.4,291.0 464.1,290.7" fill="none" stroke="#E69F00" stroke-width="4" stroke-linecap="round" stroke-linejoin="round"/>
<circle cx="278.0" cy="275.0" r="1.85" fill="#009E73"/>
<circle cx="282.9" cy="276.9" r="1.85" fill="#009E73"/>
<circle cx="286.9" cy="279.8" r="1.85" fill="#009E73"/>
<circle cx="291.0" cy="279.1" r="1.85" fill="#009E73"/>
<circle cx="296.2" cy="278.8" r="1.85" fill="#009E73"/>
<circle cx="300.9" cy="279.0" r="1.85" fill="#009E73"/>
<circle cx="310.9" cy="283.8" r="1.85" fill="#009E73"/>
<circle cx="315.9" cy="286.7" r="1.85" fill="#009E73"/>
<circle cx="320.9" cy="286.7" r="1.85" fill="#009E73"/>
<circle cx="325.9" cy="286.7" r="1.85" fill="#009E73"/>
<circle cx="328.9" cy="284.8" r="1.85" fill="#009E73"/>
<circle cx="332.9" cy="284.8" r="1.85" fill="#009E73"/>
<circle cx="340.0" cy="286.7" r="1.85" fill="#009E73"/>
<circle cx="362.0" cy="275.0" r="1.85" fill="#009E73"/>
<circle cx="376.0" cy="275.0" r="1.85" fill="#009E73"/>
<circle cx="395.0" cy="275.0" r="1.85" fill="#009E73"/>
<circle cx="422.8" cy="283.8" r="1.85" fill="#009E73"/>
<circle cx="463.9" cy="292.9" r="1.85" fill="#009E73"/>
</g>
<rect x="264.5" y="240.5" width="210.0" height="18.0" fill="#D9D9D9" stroke="#333" stroke-width="1" shape-rendering="crispEdges"/>
<rect x="264.5" y="258.5" width="210.0" height="96.0" fill="none" stroke="#333" stroke-width="1" shape-rendering="crispEdges"/>
<text x="369.0" y="254.1" font-size="10.4" fill="#1A1A1A" stroke="#1A1A1A" stroke-width="0.2" text-anchor="middle" textLength="26.5" lengthAdjust="spacingAndGlyphs">GW12</text>
</g>
<g>
<path d="M479.5 263.5H689.5M479.5 273.5H689.5M479.5 283.5H689.5M479.5 293.5H689.5M479.5 303.5H689.5M479.5 313.5H689.5M479.5 323.5H689.5M479.5 333.5H689.5M479.5 343.5H689.5M479.5 353.5H689.5M495.5 258.5V354.5M523.5 258.5V354.5M551.5 258.5V354.5M580.5 258.5V354.5M608.5 258.5V354.5M636.5 258.5V354.5M664.5 258.5V354.5" stroke="#EBEBEB" stroke-width="1" fill="none" shape-rendering="crispEdges"/>
<clipPath id="c10"><rect x="479.5" y="258.5" width="210.0" height="96.0"/></clipPath>
<g clip-path="url(#c10)">
<polyline points="497.8,281.9 502.1,281.0 505.9,280.0 509.7,276.3 512.2,275.0 515.9,275.3 520.3,277.5 525.3,277.8 529.1,278.8 534.1,278.8 538.4,276.9 541.6,274.4 543.4,272.5 547.8,274.8 551.6,277.5 555.3,276.9 561.0,277.8 564.1,275.6 566.6,271.3 569.1,269.0 572.8,269.0 576.6,269.4" fill="none" stroke="#E69F00" stroke-width="4" stroke-linecap="round" stroke-linejoin="round"/>
<polyline points="610.6,289.4 615.3,290.7 621.6,290.0 627.8,289.4 631.6,290.7 635.3,289.0 641.0,290.7 646.6,289.4 651.6,287.5 656.6,287.8 661.6,290.7 667.9,292.8 672.9,290.7 676.6,288.2 679.1,287.5" fill="none" stroke="#E69F00" stroke-width="4" stroke-linecap="round" stroke-linejoin="round"/>
<polyline points="544.3,272.5 546.3,273.0" fill="none" stroke="#56B4E9" stroke-width="4" stroke-linecap="round" stroke-linejoin="round"/>
<polyline points="591.3,293.2 599.0,292.8 605.9,292.8 609.1,291.9" fill="none" stroke="#56B4E9" stroke-width="4" stroke-linecap="round" stroke-linejoin="round"/>
<circle cx="497.9" cy="284.8" r="1.85" fill="#009E73"/>
<circle cx="500.9" cy="283.8" r="1.85" fill="#009E73"/>
<circle cx="506.0" cy="283.8" r="1.85" fill="#009E73"/>
<circle cx="511.0" cy="279.8" r="1.85" fill="#009E73"/>
<circle cx="515.9" cy="279.8" r="1.85" fill="#009E73"/>
<circle cx="525.9" cy="279.8" r="1.85" fill="#009E73"/>
<circle cx="530.9" cy="281.9" r="1.85" fill="#009E73"/>
<circle cx="535.9" cy="282.9" r="1.85" fill="#009E73"/>
<circle cx="540.9" cy="279.8" r="1.85" fill="#009E73"/>
<circle cx="543.9" cy="275.9" r="1.85" fill="#009E73"/>
<circle cx="547.9" cy="275.0" r="1.85" fill="#009E73"/>
<circle cx="555.0" cy="277.9" r="1.85" fill="#009E73"/>
<circle cx="577.0" cy="280.9" r="1.85" fill="#009E73"/>
<circle cx="591.0" cy="281.9" r="1.85" fill="#009E73"/>
<circle cx="610.0" cy="281.9" r="1.85" fill="#009E73"/>
<circle cx="637.8" cy="286.9" r="1.85" fill="#009E73"/>
<circle cx="678.9" cy="290.0" r="1.85" fill="#009E73"/>
</g>
<rect x="479.5" y="240.5" width="210.0" height="18.0" fill="#D9D9D9" stroke="#333" stroke-width="1" shape-rendering="crispEdges"/>
<rect x="479.5" y="258.5" width="210.0" height="96.0" fill="none" stroke="#333" stroke-width="1" shape-rendering="crispEdges"/>
<text x="584.0" y="254.1" font-size="10.4" fill="#1A1A1A" stroke="#1A1A1A" stroke-width="0.2" text-anchor="middle" textLength="26.5" lengthAdjust="spacingAndGlyphs">GW13</text>
</g>
<g>
<path d="M694.5 263.5H903.5M694.5 273.5H903.5M694.5 283.5H903.5M694.5 293.5H903.5M694.5 303.5H903.5M694.5 313.5H903.5M694.5 323.5H903.5M694.5 333.5H903.5M694.5 343.5H903.5M694.5 353.5H903.5M710.5 258.5V354.5M738.5 258.5V354.5M766.5 258.5V354.5M794.5 258.5V354.5M822.5 258.5V354.5M851.5 258.5V354.5M879.5 258.5V354.5" stroke="#EBEBEB" stroke-width="1" fill="none" shape-rendering="crispEdges"/>
<clipPath id="c11"><rect x="694.5" y="258.5" width="209.0" height="96.0"/></clipPath>
<g clip-path="url(#c11)">
<polyline points="779.7,307.8 781.6,301.9 784.1,295.7 785.6,292.5" fill="none" stroke="#E69F00" stroke-opacity="0.8" stroke-width="3.9" stroke-linecap="round" stroke-linejoin="round"/>
<polyline points="712.8,308.2 716.5,307.3 720.9,304.4 725.3,300.0 730.3,298.2 734.0,300.3 737.8,302.5 741.5,305.0 745.9,307.5 750.9,307.5 754.7,305.0 756.6,300.0 760.3,298.2 763.4,299.8 767.2,303.8 772.2,305.7" fill="none" stroke="#E69F00" stroke-width="4" stroke-linecap="round" stroke-linejoin="round"/>
<polyline points="786.0,286.9 788.5,288.2 791.0,292.5 794.1,296.3 797.2,301.9 800.4,303.8 806.6,301.3 812.9,299.8 817.2,301.9 821.6,301.3 825.4,303.8 827.0,305.7" fill="none" stroke="#E69F00" stroke-width="4" stroke-linecap="round" stroke-linejoin="round"/>
<polyline points="817.2,301.9 821.5,301.3 825.3,303.8 829.1,308.2 834.1,308.5 842.8,308.8 851.6,309.2 861.6,308.2 871.6,308.8 880.4,309.0 887.9,308.5 893.5,308.5" fill="none" stroke="#E69F00" stroke-width="4" stroke-linecap="round" stroke-linejoin="round"/>
<circle cx="711.9" cy="304.0" r="1.85" fill="#009E73"/>
<circle cx="716.1" cy="306.0" r="1.85" fill="#009E73"/>
<circle cx="721.0" cy="303.2" r="1.85" fill="#009E73"/>
<circle cx="726.0" cy="297.9" r="1.85" fill="#009E73"/>
<circle cx="731.0" cy="296.9" r="1.85" fill="#009E73"/>
<circle cx="740.9" cy="302.5" r="1.85" fill="#009E73"/>
<circle cx="745.9" cy="306.0" r="1.85" fill="#009E73"/>
<circle cx="750.9" cy="307.8" r="1.85" fill="#009E73"/>
<circle cx="755.9" cy="305.0" r="1.85" fill="#009E73"/>
<circle cx="755.9" cy="313.2" r="1.85" fill="#009E73"/>
<circle cx="758.9" cy="296.0" r="1.85" fill="#009E73"/>
<circle cx="763.2" cy="296.0" r="1.85" fill="#009E73"/>
<circle cx="791.0" cy="294.8" r="1.85" fill="#009E73"/>
<circle cx="806.0" cy="306.9" r="1.85" fill="#009E73"/>
<circle cx="825.0" cy="310.1" r="1.85" fill="#009E73"/>
</g>
<rect x="694.5" y="240.5" width="209.0" height="18.0" fill="#D9D9D9" stroke="#333" stroke-width="1" shape-rendering="crispEdges"/>
<rect x="694.5" y="258.5" width="209.0" height="96.0" fill="none" stroke="#333" stroke-width="1" shape-rendering="crispEdges"/>
<text x="798.5" y="254.1" font-size="10.4" fill="#1A1A1A" stroke="#1A1A1A" stroke-width="0.2" text-anchor="middle" textLength="26.5" lengthAdjust="spacingAndGlyphs">GW14</text>
</g>
<g>
<path d="M50.5 383.5H259.5M50.5 393.5H259.5M50.5 403.5H259.5M50.5 413.5H259.5M50.5 423.5H259.5M50.5 433.5H259.5M50.5 443.5H259.5M50.5 453.5H259.5M50.5 463.5H259.5M50.5 473.5H259.5M66.5 378.5V474.5M94.5 378.5V474.5M122.5 378.5V474.5M150.5 378.5V474.5M178.5 378.5V474.5M206.5 378.5V474.5M234.5 378.5V474.5" stroke="#EBEBEB" stroke-width="1" fill="none" shape-rendering="crispEdges"/>
<clipPath id="c12"><rect x="50.5" y="378.5" width="209.0" height="96.0"/></clipPath>
<g clip-path="url(#c12)">
<circle cx="181.9" cy="407.8" r="1.7" fill="#E69F00" fill-opacity="0.12" stroke="#E69F00" stroke-opacity="0.2" stroke-width="0.8"/>
<polyline points="67.9,421.0 72.5,420.0 76.9,418.2 81.3,416.3 86.3,416.3 90.0,418.5 93.8,419.0 98.2,420.7 102.6,420.7 106.3,421.5 110.1,420.7 112.6,416.9 115.7,415.7 119.4,417.3 123.2,419.8 127.6,420.7 132.0,421.9 135.1,420.0 137.6,414.4 140.1,409.4 142.8,407.5 146.3,409.8 150.1,413.8 153.9,416.5 157.6,416.9 161.4,416.3" fill="none" stroke="#E69F00" stroke-width="4" stroke-linecap="round" stroke-linejoin="round"/>
<polyline points="180.7,417.8 182.3,419.0" fill="none" stroke="#E69F00" stroke-width="4" stroke-linecap="round" stroke-linejoin="round"/>
<circle cx="67.9" cy="421.9" r="1.85" fill="#009E73"/>
<circle cx="71.9" cy="421.9" r="1.85" fill="#009E73"/>
<circle cx="76.9" cy="419.0" r="1.85" fill="#009E73"/>
<circle cx="80.9" cy="415.0" r="1.85" fill="#009E73"/>
<circle cx="86.9" cy="415.0" r="1.85" fill="#009E73"/>
<circle cx="96.9" cy="419.0" r="1.85" fill="#009E73"/>
<circle cx="100.8" cy="421.9" r="1.85" fill="#009E73"/>
<circle cx="105.9" cy="422.9" r="1.85" fill="#009E73"/>
<circle cx="111.9" cy="420.0" r="1.85" fill="#009E73"/>
<circle cx="114.9" cy="411.9" r="1.85" fill="#009E73"/>
<circle cx="118.9" cy="412.9" r="1.85" fill="#009E73"/>
<circle cx="124.8" cy="417.9" r="1.85" fill="#009E73"/>
<circle cx="147.0" cy="410.9" r="1.85" fill="#009E73"/>
<circle cx="160.9" cy="420.9" r="1.85" fill="#009E73"/>
<circle cx="179.9" cy="422.9" r="1.85" fill="#009E73"/>
</g>
<rect x="50.5" y="359.5" width="209.0" height="19.0" fill="#D9D9D9" stroke="#333" stroke-width="1" shape-rendering="crispEdges"/>
<rect x="50.5" y="378.5" width="209.0" height="96.0" fill="none" stroke="#333" stroke-width="1" shape-rendering="crispEdges"/>
<text x="154.5" y="374.1" font-size="10.4" fill="#1A1A1A" stroke="#1A1A1A" stroke-width="0.2" text-anchor="middle" textLength="26.5" lengthAdjust="spacingAndGlyphs">GW15</text>
<text x="44.9" y="399.3" font-size="13.1" fill="#4D4D4D" stroke="#4D4D4D" stroke-width="0.3" text-anchor="end" textLength="17.5" lengthAdjust="spacingAndGlyphs">0.0</text>
<text x="44.9" y="419.4" font-size="13.1" fill="#4D4D4D" stroke="#4D4D4D" stroke-width="0.3" text-anchor="end" textLength="21.7" lengthAdjust="spacingAndGlyphs">-2.5</text>
<text x="44.9" y="439.4" font-size="13.1" fill="#4D4D4D" stroke="#4D4D4D" stroke-width="0.3" text-anchor="end" textLength="21.7" lengthAdjust="spacingAndGlyphs">-5.0</text>
<text x="44.9" y="459.5" font-size="13.1" fill="#4D4D4D" stroke="#4D4D4D" stroke-width="0.3" text-anchor="end" textLength="21.7" lengthAdjust="spacingAndGlyphs">-7.5</text>
<text x="44.9" y="479.5" font-size="13.1" fill="#4D4D4D" stroke="#4D4D4D" stroke-width="0.3" text-anchor="end" textLength="28.7" lengthAdjust="spacingAndGlyphs">-10.0</text>
<path d="M47.0 393.5H50.0M47.0 413.5H50.0M47.0 433.5H50.0M47.0 453.5H50.0M47.0 473.5H50.0" stroke="#333" stroke-width="1" shape-rendering="crispEdges"/>
</g>
<g>
<path d="M264.5 383.5H474.5M264.5 393.5H474.5M264.5 403.5H474.5M264.5 413.5H474.5M264.5 423.5H474.5M264.5 433.5H474.5M264.5 443.5H474.5M264.5 453.5H474.5M264.5 463.5H474.5M264.5 473.5H474.5M281.5 378.5V474.5M309.5 378.5V474.5M337.5 378.5V474.5M365.5 378.5V474.5M393.5 378.5V474.5M421.5 378.5V474.5M449.5 378.5V474.5" stroke="#EBEBEB" stroke-width="1" fill="none" shape-rendering="crispEdges"/>
<clipPath id="c13"><rect x="264.5" y="378.5" width="210.0" height="96.0"/></clipPath>
<g clip-path="url(#c13)">
<polyline points="315.9,418.2 319.1,417.5 322.8,414.4 324.9,411.3 325.7,408.2" fill="none" stroke="#E69F00" stroke-width="4" stroke-linecap="round" stroke-linejoin="round"/>
<polyline points="327.2,388.8 329.7,392.5 333.4,395.6 335.9,400.6 338.8,405.0 344.1,403.1 349.7,402.8" fill="none" stroke="#E69F00" stroke-width="4" stroke-linecap="round" stroke-linejoin="round"/>
<polyline points="350.3,383.5 355.3,383.5 359.7,383.1 361.0,387.5 363.5,392.5 365.4,397.5 367.2,401.5 371.6,400.6 376.6,400.3" fill="none" stroke="#E69F00" stroke-width="4" stroke-linecap="round" stroke-linejoin="round"/>
<circle cx="295.9" cy="396.9" r="1.85" fill="#009E73"/>
<circle cx="300.9" cy="403.8" r="1.85" fill="#009E73"/>
<circle cx="325.9" cy="402.9" r="1.85" fill="#009E73"/>
<circle cx="328.9" cy="401.9" r="1.85" fill="#009E73"/>
<circle cx="332.9" cy="403.8" r="1.85" fill="#009E73"/>
<circle cx="362.0" cy="406.9" r="1.85" fill="#009E73"/>
</g>
<rect x="264.5" y="359.5" width="210.0" height="19.0" fill="#D9D9D9" stroke="#333" stroke-width="1" shape-rendering="crispEdges"/>
<rect x="264.5" y="378.5" width="210.0" height="96.0" fill="none" stroke="#333" stroke-width="1" shape-rendering="crispEdges"/>
<text x="369.0" y="374.1" font-size="10.4" fill="#1A1A1A" stroke="#1A1A1A" stroke-width="0.2" text-anchor="middle" textLength="26.5" lengthAdjust="spacingAndGlyphs">GW16</text>
</g>
<g>
<path d="M479.5 383.5H689.5M479.5 393.5H689.5M479.5 403.5H689.5M479.5 413.5H689.5M479.5 423.5H689.5M479.5 433.5H689.5M479.5 443.5H689.5M479.5 453.5H689.5M479.5 463.5H689.5M479.5 473.5H689.5M495.5 378.5V474.5M523.5 378.5V474.5M551.5 378.5V474.5M580.5 378.5V474.5M608.5 378.5V474.5M636.5 378.5V474.5M664.5 378.5V474.5" stroke="#EBEBEB" stroke-width="1" fill="none" shape-rendering="crispEdges"/>
<clipPath id="c14"><rect x="479.5" y="378.5" width="210.0" height="96.0"/></clipPath>
<g clip-path="url(#c14)">
<polyline points="530.9,413.5 535.3,411.3 538.4,409.4 540.3,405.7 542.8,404.4 546.6,407.5 550.3,411.3 554.7,413.2 559.1,413.8 562.2,412.8 564.1,410.0" fill="none" stroke="#E69F00" stroke-width="4" stroke-linecap="round" stroke-linejoin="round"/>
<polyline points="565.3,403.1 570.3,402.3 575.3,403.8 580.4,406.3 584.7,408.2 587.9,404.4 591.0,403.8" fill="none" stroke="#E69F00" stroke-width="4" stroke-linecap="round" stroke-linejoin="round"/>
<circle cx="530.9" cy="413.8" r="1.85" fill="#009E73"/>
<circle cx="535.9" cy="411.9" r="1.85" fill="#009E73"/>
<circle cx="540.9" cy="403.8" r="1.85" fill="#009E73"/>
<circle cx="543.9" cy="402.8" r="1.85" fill="#009E73"/>
<circle cx="547.9" cy="405.0" r="1.85" fill="#009E73"/>
<circle cx="555.0" cy="411.9" r="1.85" fill="#009E73"/>
<circle cx="577.0" cy="407.8" r="1.85" fill="#009E73"/>
</g>
<rect x="479.5" y="359.5" width="210.0" height="19.0" fill="#D9D9D9" stroke="#333" stroke-width="1" shape-rendering="crispEdges"/>
<rect x="479.5" y="378.5" width="210.0" height="96.0" fill="none" stroke="#333" stroke-width="1" shape-rendering="crispEdges"/>
<text x="584.0" y="374.1" font-size="10.4" fill="#1A1A1A" stroke="#1A1A1A" stroke-width="0.2" text-anchor="middle" textLength="26.5" lengthAdjust="spacingAndGlyphs">GW17</text>
</g>
<g>
<path d="M694.5 383.5H903.5M694.5 393.5H903.5M694.5 403.5H903.5M694.5 413.5H903.5M694.5 423.5H903.5M694.5 433.5H903.5M694.5 443.5H903.5M694.5 453.5H903.5M694.5 463.5H903.5M694.5 473.5H903.5M710.5 378.5V474.5M738.5 378.5V474.5M766.5 378.5V474.5M794.5 378.5V474.5M822.5 378.5V474.5M851.5 378.5V474.5M879.5 378.5V474.5" stroke="#EBEBEB" stroke-width="1" fill="none" shape-rendering="crispEdges"/>
<clipPath id="c15"><rect x="694.5" y="378.5" width="209.0" height="96.0"/></clipPath>
<g clip-path="url(#c15)">
<polyline points="745.9,414.8 750.3,413.2 754.0,410.0 758.4,408.8 762.8,411.0 767.8,413.5 771.5,415.0 776.5,415.0 778.8,412.8" fill="none" stroke="#E69F00" stroke-width="4" stroke-linecap="round" stroke-linejoin="round"/>
<polyline points="780.5,407.3 786.6,406.9 791.6,408.2 796.6,409.8 799.7,411.3 802.8,407.8 809.1,407.3 815.3,408.2 820.3,409.0 825.3,411.9 830.3,412.5 835.4,409.4 840.4,408.5 845.4,410.0 849.1,411.9 852.2,413.5" fill="none" stroke="#E69F00" stroke-width="4" stroke-linecap="round" stroke-linejoin="round"/>
<circle cx="745.9" cy="416.0" r="1.85" fill="#009E73"/>
<circle cx="750.9" cy="415.0" r="1.85" fill="#009E73"/>
<circle cx="755.9" cy="405.9" r="1.85" fill="#009E73"/>
<circle cx="759.0" cy="404.8" r="1.85" fill="#009E73"/>
<circle cx="763.0" cy="406.9" r="1.85" fill="#009E73"/>
<circle cx="769.0" cy="412.2" r="1.85" fill="#009E73"/>
<circle cx="790.9" cy="410.9" r="1.85" fill="#009E73"/>
<circle cx="805.9" cy="410.9" r="1.85" fill="#009E73"/>
<circle cx="825.0" cy="416.9" r="1.85" fill="#009E73"/>
</g>
<rect x="694.5" y="359.5" width="209.0" height="19.0" fill="#D9D9D9" stroke="#333" stroke-width="1" shape-rendering="crispEdges"/>
<rect x="694.5" y="378.5" width="209.0" height="96.0" fill="none" stroke="#333" stroke-width="1" shape-rendering="crispEdges"/>
<text x="798.5" y="374.1" font-size="10.4" fill="#1A1A1A" stroke="#1A1A1A" stroke-width="0.2" text-anchor="middle" textLength="26.5" lengthAdjust="spacingAndGlyphs">GW18</text>
</g>
<g>
<path d="M50.5 502.5H259.5M50.5 512.5H259.5M50.5 522.5H259.5M50.5 532.5H259.5M50.5 543.5H259.5M50.5 553.5H259.5M50.5 563.5H259.5M50.5 573.5H259.5M50.5 583.5H259.5M50.5 593.5H259.5M66.5 498.5V594.5M94.5 498.5V594.5M122.5 498.5V594.5M150.5 498.5V594.5M178.5 498.5V594.5M206.5 498.5V594.5M234.5 498.5V594.5" stroke="#EBEBEB" stroke-width="1" fill="none" shape-rendering="crispEdges"/>
<clipPath id="c16"><rect x="50.5" y="498.5" width="209.0" height="96.0"/></clipPath>
<g clip-path="url(#c16)">
<circle cx="134.4" cy="538.5" r="1.7" fill="#E69F00" fill-opacity="0.4" stroke="#E69F00" stroke-opacity="0.45" stroke-width="0.8"/>
<polyline points="101.9,542.8 105.6,540.7 108.8,536.9 111.9,532.5 114.4,531.9 118.2,534.8 121.3,540.0 125.0,543.8 129.4,544.7 132.5,543.8 134.0,540.0" fill="none" stroke="#E69F00" stroke-width="4" stroke-linecap="round" stroke-linejoin="round"/>
<polyline points="136.3,532.5 138.8,529.4 141.9,528.2 145.7,530.7 150.1,532.8 155.1,534.0 158.2,530.7 162.6,529.0 167.6,529.0 172.6,531.3 176.3,531.3 180.1,534.0 185.1,536.5 188.8,533.8 192.6,531.0 197.6,531.0 201.4,534.0 205.1,536.3 207.6,540.0" fill="none" stroke="#E69F00" stroke-width="4" stroke-linecap="round" stroke-linejoin="round"/>
<circle cx="101.0" cy="529.8" r="1.85" fill="#009E73"/>
<circle cx="105.9" cy="533.8" r="1.85" fill="#009E73"/>
<circle cx="111.9" cy="527.8" r="1.85" fill="#009E73"/>
<circle cx="115.0" cy="526.5" r="1.85" fill="#009E73"/>
<circle cx="119.0" cy="527.8" r="1.85" fill="#009E73"/>
<circle cx="125.0" cy="533.8" r="1.85" fill="#009E73"/>
<circle cx="146.9" cy="531.9" r="1.85" fill="#009E73"/>
<circle cx="160.9" cy="530.9" r="1.85" fill="#009E73"/>
<circle cx="180.0" cy="535.0" r="1.85" fill="#009E73"/>
<circle cx="208.0" cy="541.9" r="1.85" fill="#009E73"/>
</g>
<rect x="50.5" y="479.5" width="209.0" height="19.0" fill="#D9D9D9" stroke="#333" stroke-width="1" shape-rendering="crispEdges"/>
<rect x="50.5" y="498.5" width="209.0" height="96.0" fill="none" stroke="#333" stroke-width="1" shape-rendering="crispEdges"/>
<text x="154.5" y="494.1" font-size="10.4" fill="#1A1A1A" stroke="#1A1A1A" stroke-width="0.2" text-anchor="middle" textLength="26.5" lengthAdjust="spacingAndGlyphs">GW19</text>
<text x="44.9" y="519.1" font-size="13.1" fill="#4D4D4D" stroke="#4D4D4D" stroke-width="0.3" text-anchor="end" textLength="17.5" lengthAdjust="spacingAndGlyphs">0.0</text>
<text x="44.9" y="539.2" font-size="13.1" fill="#4D4D4D" stroke="#4D4D4D" stroke-width="0.3" text-anchor="end" textLength="21.7" lengthAdjust="spacingAndGlyphs">-2.5</text>
<text x="44.9" y="559.2" font-size="13.1" fill="#4D4D4D" stroke="#4D4D4D" stroke-width="0.3" text-anchor="end" textLength="21.7" lengthAdjust="spacingAndGlyphs">-5.0</text>
<text x="44.9" y="579.3" font-size="13.1" fill="#4D4D4D" stroke="#4D4D4D" stroke-width="0.3" text-anchor="end" textLength="21.7" lengthAdjust="spacingAndGlyphs">-7.5</text>
<text x="44.9" y="599.4" font-size="13.1" fill="#4D4D4D" stroke="#4D4D4D" stroke-width="0.3" text-anchor="end" textLength="28.7" lengthAdjust="spacingAndGlyphs">-10.0</text>
<path d="M47.0 512.5H50.0M47.0 533.5H50.0M47.0 553.5H50.0M47.0 573.5H50.0M47.0 593.5H50.0" stroke="#333" stroke-width="1" shape-rendering="crispEdges"/>
</g>
<g>
<path d="M264.5 502.5H474.5M264.5 512.5H474.5M264.5 522.5H474.5M264.5 532.5H474.5M264.5 543.5H474.5M264.5 553.5H474.5M264.5 563.5H474.5M264.5 573.5H474.5M264.5 583.5H474.5M264.5 593.5H474.5M281.5 498.5V594.5M309.5 498.5V594.5M337.5 498.5V594.5M365.5 498.5V594.5M393.5 498.5V594.5M421.5 498.5V594.5M449.5 498.5V594.5" stroke="#EBEBEB" stroke-width="1" fill="none" shape-rendering="crispEdges"/>
<clipPath id="c17"><rect x="264.5" y="498.5" width="210.0" height="96.0"/></clipPath>
<g clip-path="url(#c17)">
<circle cx="349.0" cy="529.4" r="1.7" fill="#E69F00" fill-opacity="0.4" stroke="#E69F00" stroke-opacity="0.45" stroke-width="0.8"/>
<polyline points="316.3,533.8 320.0,532.3 323.8,528.2 326.9,525.0 330.0,525.7 333.2,529.0 336.3,532.3 340.0,534.0 345.0,534.4 348.2,532.5" fill="none" stroke="#E69F00" stroke-width="4" stroke-linecap="round" stroke-linejoin="round"/>
<polyline points="350.7,524.4 355.1,522.5 359.4,523.1 363.8,525.7 369.4,528.2 372.6,525.0 377.6,523.5 383.8,523.8 388.8,525.7 392.0,525.7 395.1,528.5 400.1,531.0 403.9,527.8 407.6,526.0 412.6,526.0 417.0,528.8 420.7,531.3 423.9,535.0 426.4,536.5" fill="none" stroke="#E69F00" stroke-width="4" stroke-linecap="round" stroke-linejoin="round"/>
<polyline points="424.1,535.0 426.6,536.5 431.6,532.8 436.6,528.2 440.3,526.9 444.1,530.7 447.9,535.7 451.0,538.5 456.0,538.2 459.1,535.0 462.2,532.8 464.4,531.5" fill="none" stroke="#E69F00" stroke-width="4" stroke-linecap="round" stroke-linejoin="round"/>
<circle cx="316.0" cy="532.9" r="1.85" fill="#009E73"/>
<circle cx="320.9" cy="530.9" r="1.85" fill="#009E73"/>
<circle cx="325.9" cy="523.8" r="1.85" fill="#009E73"/>
<circle cx="329.0" cy="522.8" r="1.85" fill="#009E73"/>
<circle cx="332.9" cy="525.0" r="1.85" fill="#009E73"/>
<circle cx="339.9" cy="530.9" r="1.85" fill="#009E73"/>
<circle cx="361.9" cy="526.7" r="1.85" fill="#009E73"/>
<circle cx="376.0" cy="525.9" r="1.85" fill="#009E73"/>
<circle cx="395.0" cy="529.8" r="1.85" fill="#009E73"/>
<circle cx="423.0" cy="536.9" r="1.85" fill="#009E73"/>
<circle cx="463.9" cy="535.0" r="1.85" fill="#009E73"/>
</g>
<rect x="264.5" y="479.5" width="210.0" height="19.0" fill="#D9D9D9" stroke="#333" stroke-width="1" shape-rendering="crispEdges"/>
<rect x="264.5" y="498.5" width="210.0" height="96.0" fill="none" stroke="#333" stroke-width="1" shape-rendering="crispEdges"/>
<text x="369.0" y="494.1" font-size="10.4" fill="#1A1A1A" stroke="#1A1A1A" stroke-width="0.2" text-anchor="middle" textLength="26.5" lengthAdjust="spacingAndGlyphs">GW20</text>
</g>
<g>
<path d="M479.5 502.5H689.5M479.5 512.5H689.5M479.5 522.5H689.5M479.5 532.5H689.5M479.5 543.5H689.5M479.5 553.5H689.5M479.5 563.5H689.5M479.5 573.5H689.5M479.5 583.5H689.5M479.5 593.5H689.5M495.5 498.5V594.5M523.5 498.5V594.5M551.5 498.5V594.5M580.5 498.5V594.5M608.5 498.5V594.5M636.5 498.5V594.5M664.5 498.5V594.5" stroke="#EBEBEB" stroke-width="1" fill="none" shape-rendering="crispEdges"/>
<clipPath id="c18"><rect x="479.5" y="498.5" width="210.0" height="96.0"/></clipPath>
<g clip-path="url(#c18)">
<polyline points="541.9,524.4 548.8,523.8 552.5,525.0 564.4,525.0 568.2,520.0 571.9,515.6 574.4,514.8 578.8,516.0 583.8,517.8 591.3,518.1 597.6,519.8 603.8,521.3 615.1,521.5 625.1,522.3 632.6,524.0 645.1,524.0 653.0,524.4" fill="none" stroke="#E69F00" stroke-width="4" stroke-linecap="round" stroke-linejoin="round"/>
<polyline points="634.1,524.0 651.6,524.0 657.8,525.7 664.1,526.9 670.4,526.5 676.6,526.0 679.4,526.0" fill="none" stroke="#E69F00" stroke-width="4" stroke-linecap="round" stroke-linejoin="round"/>
<circle cx="535.9" cy="521.9" r="1.85" fill="#009E73"/>
<circle cx="541.0" cy="521.9" r="1.85" fill="#009E73"/>
<circle cx="543.9" cy="519.8" r="1.85" fill="#009E73"/>
<circle cx="555.0" cy="520.9" r="1.85" fill="#009E73"/>
<circle cx="576.9" cy="519.8" r="1.85" fill="#009E73"/>
<circle cx="590.9" cy="522.9" r="1.85" fill="#009E73"/>
<circle cx="610.0" cy="524.8" r="1.85" fill="#009E73"/>
<circle cx="638.0" cy="527.8" r="1.85" fill="#009E73"/>
</g>
<rect x="479.5" y="479.5" width="210.0" height="19.0" fill="#D9D9D9" stroke="#333" stroke-width="1" shape-rendering="crispEdges"/>
<rect x="479.5" y="498.5" width="210.0" height="96.0" fill="none" stroke="#333" stroke-width="1" shape-rendering="crispEdges"/>
<text x="584.0" y="494.1" font-size="10.4" fill="#1A1A1A" stroke="#1A1A1A" stroke-width="0.2" text-anchor="middle" textLength="26.5" lengthAdjust="spacingAndGlyphs">GW21</text>
</g>
<g>
<path d="M694.5 502.5H903.5M694.5 512.5H903.5M694.5 522.5H903.5M694.5 532.5H903.5M694.5 543.5H903.5M694.5 553.5H903.5M694.5 563.5H903.5M694.5 573.5H903.5M694.5 583.5H903.5M694.5 593.5H903.5M710.5 498.5V594.5M738.5 498.5V594.5M766.5 498.5V594.5M794.5 498.5V594.5M822.5 498.5V594.5M851.5 498.5V594.5M879.5 498.5V594.5" stroke="#EBEBEB" stroke-width="1" fill="none" shape-rendering="crispEdges"/>
<clipPath id="c19"><rect x="694.5" y="498.5" width="209.0" height="96.0"/></clipPath>
<g clip-path="url(#c19)">
<polyline points="757.1,536.9 759.0,540.7 762.2,543.8 765.9,545.7 771.5,546.0 777.2,545.7 780.0,543.2" fill="none" stroke="#E69F00" stroke-width="4" stroke-linecap="round" stroke-linejoin="round"/>
<polyline points="779.7,536.3 782.2,534.0 785.9,533.8 789.1,535.7 790.9,539.4 796.6,541.0 804.1,541.3 811.6,541.9 819.1,543.2 826.6,544.0 834.1,544.4 842.9,545.0 851.6,545.0 859.1,544.8 867.0,545.3" fill="none" stroke="#E69F00" stroke-width="4" stroke-linecap="round" stroke-linejoin="round"/>
<polyline points="851.6,545.0 859.1,544.4 866.6,545.3 872.8,546.3 877.9,547.8 884.1,547.3 891.6,547.3 894.1,547.5" fill="none" stroke="#E69F00" stroke-width="4" stroke-linecap="round" stroke-linejoin="round"/>
<circle cx="750.9" cy="540.9" r="1.85" fill="#009E73"/>
<circle cx="755.9" cy="534.8" r="1.85" fill="#009E73"/>
<circle cx="759.0" cy="533.8" r="1.85" fill="#009E73"/>
<circle cx="763.0" cy="537.9" r="1.85" fill="#009E73"/>
<circle cx="769.0" cy="537.9" r="1.85" fill="#009E73"/>
<circle cx="790.9" cy="540.9" r="1.85" fill="#009E73"/>
<circle cx="805.9" cy="544.8" r="1.85" fill="#009E73"/>
<circle cx="825.0" cy="546.9" r="1.85" fill="#009E73"/>
<circle cx="852.0" cy="548.8" r="1.85" fill="#009E73"/>
<circle cx="893.9" cy="551.7" r="1.85" fill="#009E73"/>
</g>
<rect x="694.5" y="479.5" width="209.0" height="19.0" fill="#D9D9D9" stroke="#333" stroke-width="1" shape-rendering="crispEdges"/>
<rect x="694.5" y="498.5" width="209.0" height="96.0" fill="none" stroke="#333" stroke-width="1" shape-rendering="crispEdges"/>
<text x="798.5" y="494.1" font-size="10.4" fill="#1A1A1A" stroke="#1A1A1A" stroke-width="0.2" text-anchor="middle" textLength="26.5" lengthAdjust="spacingAndGlyphs">GW22</text>
<text x="709.7" y="610.8" font-size="13.1" fill="#4D4D4D" stroke="#4D4D4D" stroke-width="0.3" text-anchor="middle" textLength="28" lengthAdjust="spacingAndGlyphs">2014</text>
<text x="765.7" y="610.8" font-size="13.1" fill="#4D4D4D" stroke="#4D4D4D" stroke-width="0.3" text-anchor="middle" textLength="28" lengthAdjust="spacingAndGlyphs">2016</text>
<text x="821.7" y="610.8" font-size="13.1" fill="#4D4D4D" stroke="#4D4D4D" stroke-width="0.3" text-anchor="middle" textLength="28" lengthAdjust="spacingAndGlyphs">2018</text>
<text x="878.7" y="610.8" font-size="13.1" fill="#4D4D4D" stroke="#4D4D4D" stroke-width="0.3" text-anchor="middle" textLength="28" lengthAdjust="spacingAndGlyphs">2020</text>
<path d="M710.5 595.0V597.0M766.5 595.0V597.0M822.5 595.0V597.0M879.5 595.0V597.0" stroke="#333" stroke-width="1" shape-rendering="crispEdges"/>
</g>
<g>
<path d="M50.5 622.5H259.5M50.5 632.5H259.5M50.5 642.5H259.5M50.5 652.5H259.5M50.5 662.5H259.5M50.5 672.5H259.5M50.5 682.5H259.5M50.5 692.5H259.5M50.5 702.5H259.5M50.5 712.5H259.5M66.5 618.5V713.5M94.5 618.5V713.5M122.5 618.5V713.5M150.5 618.5V713.5M178.5 618.5V713.5M206.5 618.5V713.5M234.5 618.5V713.5" stroke="#EBEBEB" stroke-width="1" fill="none" shape-rendering="crispEdges"/>
<clipPath id="c20"><rect x="50.5" y="618.5" width="209.0" height="95.0"/></clipPath>
<g clip-path="url(#c20)">
<circle cx="111.9" cy="697.0" r="1.7" fill="#E69F00" fill-opacity="0.4" stroke="#E69F00" stroke-opacity="0.45" stroke-width="0.8"/>
<circle cx="136.0" cy="690.3" r="1.7" fill="#E69F00" fill-opacity="0.4" stroke="#E69F00" stroke-opacity="0.45" stroke-width="0.8"/>
<circle cx="136.5" cy="681.9" r="1.7" fill="#E69F00" fill-opacity="0.4" stroke="#E69F00" stroke-opacity="0.45" stroke-width="0.8"/>
<circle cx="136.5" cy="678.8" r="1.7" fill="#E69F00" fill-opacity="0.4" stroke="#E69F00" stroke-opacity="0.45" stroke-width="0.8"/>
<polyline points="112.5,687.9 116.3,691.9 121.3,697.6 126.3,700.7 131.3,702.6 134.4,702.2" fill="none" stroke="#E69F00" stroke-width="4" stroke-linecap="round" stroke-linejoin="round"/>
<polyline points="137.5,675.7 139.4,673.2 141.9,671.9 143.8,674.4 145.1,680.1 148.2,685.1 151.3,689.4 155.1,692.3 160.1,693.2 167.6,693.8 176.3,695.7 181.3,700.1 186.3,702.6 193.9,703.2 200.1,704.5 206.4,706.3 212.0,708.2 217.6,707.3 223.0,707.0" fill="none" stroke="#E69F00" stroke-width="4" stroke-linecap="round" stroke-linejoin="round"/>
<polyline points="212.0,708.2 217.6,707.0 222.6,707.6 227.6,708.2" fill="none" stroke="#E69F00" stroke-width="4" stroke-linecap="round" stroke-linejoin="round"/>
<circle cx="105.9" cy="676.9" r="1.85" fill="#009E73"/>
<circle cx="111.9" cy="668.8" r="1.85" fill="#009E73"/>
<circle cx="115.0" cy="660.9" r="1.85" fill="#009E73"/>
<circle cx="119.0" cy="666.9" r="1.85" fill="#009E73"/>
<circle cx="125.0" cy="671.7" r="1.85" fill="#009E73"/>
<circle cx="146.9" cy="686.9" r="1.85" fill="#009E73"/>
<circle cx="160.9" cy="674.8" r="1.85" fill="#009E73"/>
<circle cx="180.0" cy="680.1" r="1.85" fill="#009E73"/>
<circle cx="208.0" cy="687.9" r="1.85" fill="#009E73"/>
</g>
<rect x="50.5" y="599.5" width="209.0" height="19.0" fill="#D9D9D9" stroke="#333" stroke-width="1" shape-rendering="crispEdges"/>
<rect x="50.5" y="618.5" width="209.0" height="95.0" fill="none" stroke="#333" stroke-width="1" shape-rendering="crispEdges"/>
<text x="154.5" y="613.1" font-size="10.4" fill="#1A1A1A" stroke="#1A1A1A" stroke-width="0.2" text-anchor="middle" textLength="26.5" lengthAdjust="spacingAndGlyphs">GW23</text>
<text x="44.9" y="638.9" font-size="13.1" fill="#4D4D4D" stroke="#4D4D4D" stroke-width="0.3" text-anchor="end" textLength="17.5" lengthAdjust="spacingAndGlyphs">0.0</text>
<text x="44.9" y="659.0" font-size="13.1" fill="#4D4D4D" stroke="#4D4D4D" stroke-width="0.3" text-anchor="end" textLength="21.7" lengthAdjust="spacingAndGlyphs">-2.5</text>
<text x="44.9" y="679.1" font-size="13.1" fill="#4D4D4D" stroke="#4D4D4D" stroke-width="0.3" text-anchor="end" textLength="21.7" lengthAdjust="spacingAndGlyphs">-5.0</text>
<text x="44.9" y="699.1" font-size="13.1" fill="#4D4D4D" stroke="#4D4D4D" stroke-width="0.3" text-anchor="end" textLength="21.7" lengthAdjust="spacingAndGlyphs">-7.5</text>
<text x="44.9" y="719.2" font-size="13.1" fill="#4D4D4D" stroke="#4D4D4D" stroke-width="0.3" text-anchor="end" textLength="28.7" lengthAdjust="spacingAndGlyphs">-10.0</text>
<path d="M47.0 632.5H50.0M47.0 652.5H50.0M47.0 672.5H50.0M47.0 692.5H50.0M47.0 712.5H50.0" stroke="#333" stroke-width="1" shape-rendering="crispEdges"/>
<text x="65.7" y="729.8" font-size="13.1" fill="#4D4D4D" stroke="#4D4D4D" stroke-width="0.3" text-anchor="middle" textLength="28" lengthAdjust="spacingAndGlyphs">2014</text>
<text x="121.7" y="729.8" font-size="13.1" fill="#4D4D4D" stroke="#4D4D4D" stroke-width="0.3" text-anchor="middle" textLength="28" lengthAdjust="spacingAndGlyphs">2016</text>
<text x="177.7" y="729.8" font-size="13.1" fill="#4D4D4D" stroke="#4D4D4D" stroke-width="0.3" text-anchor="middle" textLength="28" lengthAdjust="spacingAndGlyphs">2018</text>
<text x="233.7" y="729.8" font-size="13.1" fill="#4D4D4D" stroke="#4D4D4D" stroke-width="0.3" text-anchor="middle" textLength="28" lengthAdjust="spacingAndGlyphs">2020</text>
<path d="M66.5 714.0V716.0M122.5 714.0V716.0M178.5 714.0V716.0M234.5 714.0V716.0" stroke="#333" stroke-width="1" shape-rendering="crispEdges"/>
</g>
<g>
<path d="M264.5 622.5H474.5M264.5 632.5H474.5M264.5 642.5H474.5M264.5 652.5H474.5M264.5 662.5H474.5M264.5 672.5H474.5M264.5 682.5H474.5M264.5 692.5H474.5M264.5 702.5H474.5M264.5 712.5H474.5M281.5 618.5V713.5M309.5 618.5V713.5M337.5 618.5V713.5M365.5 618.5V713.5M393.5 618.5V713.5M421.5 618.5V713.5M449.5 618.5V713.5" stroke="#EBEBEB" stroke-width="1" fill="none" shape-rendering="crispEdges"/>
<clipPath id="c21"><rect x="264.5" y="618.5" width="210.0" height="95.0"/></clipPath>
<g clip-path="url(#c21)">
<circle cx="326.9" cy="667.3" r="1.7" fill="#E69F00" fill-opacity="0.4" stroke="#E69F00" stroke-opacity="0.45" stroke-width="0.8"/>
<circle cx="350.5" cy="659.0" r="1.7" fill="#E69F00" fill-opacity="0.4" stroke="#E69F00" stroke-opacity="0.45" stroke-width="0.8"/>
<polyline points="327.1,660.0 330.3,663.2 334.0,667.5 337.8,670.1 342.2,671.9 345.9,672.8 349.0,671.1" fill="none" stroke="#E69F00" stroke-width="4" stroke-linecap="round" stroke-linejoin="round"/>
<polyline points="351.3,653.8 354.1,650.0 357.2,648.5 359.7,651.9 362.2,656.9 365.9,660.7 370.3,663.2 376.6,662.5 382.8,661.9 387.8,663.2 391.6,664.4 395.3,667.5 399.1,671.3 402.2,672.3 406.6,670.1 411.6,669.8 415.4,671.9 419.7,673.8 422.9,675.7" fill="none" stroke="#E69F00" stroke-width="4" stroke-linecap="round" stroke-linejoin="round"/>
<circle cx="320.9" cy="666.9" r="1.85" fill="#009E73"/>
<circle cx="325.9" cy="662.9" r="1.85" fill="#009E73"/>
<circle cx="329.0" cy="657.9" r="1.85" fill="#009E73"/>
<circle cx="333.0" cy="660.0" r="1.85" fill="#009E73"/>
<circle cx="340.0" cy="663.8" r="1.85" fill="#009E73"/>
<circle cx="361.9" cy="660.0" r="1.85" fill="#009E73"/>
<circle cx="375.9" cy="667.9" r="1.85" fill="#009E73"/>
<circle cx="395.0" cy="671.7" r="1.85" fill="#009E73"/>
<circle cx="422.9" cy="680.9" r="1.85" fill="#009E73"/>
</g>
<rect x="264.5" y="599.5" width="210.0" height="19.0" fill="#D9D9D9" stroke="#333" stroke-width="1" shape-rendering="crispEdges"/>
<rect x="264.5" y="618.5" width="210.0" height="95.0" fill="none" stroke="#333" stroke-width="1" shape-rendering="crispEdges"/>
<text x="369.0" y="613.1" font-size="10.4" fill="#1A1A1A" stroke="#1A1A1A" stroke-width="0.2" text-anchor="middle" textLength="26.5" lengthAdjust="spacingAndGlyphs">GW24</text>
<text x="280.7" y="729.8" font-size="13.1" fill="#4D4D4D" stroke="#4D4D4D" stroke-width="0.3" text-anchor="middle" textLength="28" lengthAdjust="spacingAndGlyphs">2014</text>
<text x="336.7" y="729.8" font-size="13.1" fill="#4D4D4D" stroke="#4D4D4D" stroke-width="0.3" text-anchor="middle" textLength="28" lengthAdjust="spacingAndGlyphs">2016</text>
<text x="392.7" y="729.8" font-size="13.1" fill="#4D4D4D" stroke="#4D4D4D" stroke-width="0.3" text-anchor="middle" textLength="28" lengthAdjust="spacingAndGlyphs">2018</text>
<text x="448.7" y="729.8" font-size="13.1" fill="#4D4D4D" stroke="#4D4D4D" stroke-width="0.3" text-anchor="middle" textLength="28" lengthAdjust="spacingAndGlyphs">2020</text>
<path d="M281.5 714.0V716.0M337.5 714.0V716.0M393.5 714.0V716.0M449.5 714.0V716.0" stroke="#333" stroke-width="1" shape-rendering="crispEdges"/>
</g>
<g>
<path d="M479.5 622.5H689.5M479.5 632.5H689.5M479.5 642.5H689.5M479.5 652.5H689.5M479.5 662.5H689.5M479.5 672.5H689.5M479.5 682.5H689.5M479.5 692.5H689.5M479.5 702.5H689.5M479.5 712.5H689.5M495.5 618.5V713.5M523.5 618.5V713.5M551.5 618.5V713.5M580.5 618.5V713.5M608.5 618.5V713.5M636.5 618.5V713.5M664.5 618.5V713.5" stroke="#EBEBEB" stroke-width="1" fill="none" shape-rendering="crispEdges"/>
<clipPath id="c22"><rect x="479.5" y="618.5" width="210.0" height="95.0"/></clipPath>
<g clip-path="url(#c22)">
<polyline points="591.5,656.3 597.8,659.8 605.3,662.5 611.6,664.0 617.8,666.0 626.6,666.5 634.1,666.9 641.6,666.0 649.1,665.3 656.6,666.0 664.1,666.9 671.6,666.0 679.1,666.0" fill="none" stroke="#E69F00" stroke-width="4" stroke-linecap="round" stroke-linejoin="round"/>
<circle cx="590.9" cy="661.9" r="1.85" fill="#009E73"/>
<circle cx="609.8" cy="668.8" r="1.85" fill="#009E73"/>
<circle cx="637.8" cy="680.9" r="1.85" fill="#009E73"/>
<circle cx="678.9" cy="692.8" r="1.85" fill="#009E73"/>
</g>
<rect x="479.5" y="599.5" width="210.0" height="19.0" fill="#D9D9D9" stroke="#333" stroke-width="1" shape-rendering="crispEdges"/>
<rect x="479.5" y="618.5" width="210.0" height="95.0" fill="none" stroke="#333" stroke-width="1" shape-rendering="crispEdges"/>
<text x="584.0" y="613.1" font-size="10.4" fill="#1A1A1A" stroke="#1A1A1A" stroke-width="0.2" text-anchor="middle" textLength="26.5" lengthAdjust="spacingAndGlyphs">GW25</text>
<text x="494.7" y="729.8" font-size="13.1" fill="#4D4D4D" stroke="#4D4D4D" stroke-width="0.3" text-anchor="middle" textLength="28" lengthAdjust="spacingAndGlyphs">2014</text>
<text x="550.7" y="729.8" font-size="13.1" fill="#4D4D4D" stroke="#4D4D4D" stroke-width="0.3" text-anchor="middle" textLength="28" lengthAdjust="spacingAndGlyphs">2016</text>
<text x="607.7" y="729.8" font-size="13.1" fill="#4D4D4D" stroke="#4D4D4D" stroke-width="0.3" text-anchor="middle" textLength="28" lengthAdjust="spacingAndGlyphs">2018</text>
<text x="663.7" y="729.8" font-size="13.1" fill="#4D4D4D" stroke="#4D4D4D" stroke-width="0.3" text-anchor="middle" textLength="28" lengthAdjust="spacingAndGlyphs">2020</text>
<path d="M495.5 714.0V716.0M551.5 714.0V716.0M608.5 714.0V716.0M664.5 714.0V716.0" stroke="#333" stroke-width="1" shape-rendering="crispEdges"/>
</g>
<text x="475.3" y="745.7" font-size="12.8" fill="#000" stroke="#000" stroke-width="0.25" text-anchor="middle">Date</text>
<text transform="translate(10.3,366.7) rotate(-90)" font-size="12.8" fill="#000" stroke="#000" stroke-width="0.25" text-anchor="middle">SWL (m)</text>
<text x="920.3" y="343.5" font-size="12.8" fill="#000" stroke="#000" stroke-width="0.25">Source</text>
<circle cx="928" cy="359.1" r="2.1" fill="#E69F00"/>
<text x="943.1" y="364.8" font-size="12.8" fill="#000" stroke="#000" stroke-width="0.25" textLength="120.0" lengthAdjust="spacing">Automatic correction</text>
<circle cx="928" cy="376.1" r="2.1" fill="#56B4E9"/>
<text x="943.1" y="381.8" font-size="12.8" fill="#000" stroke="#000" stroke-width="0.25" textLength="103.2" lengthAdjust="spacing">Manual correction</text>
<circle cx="928" cy="393.1" r="2.1" fill="#009E73"/>
<text x="943.1" y="399.2" font-size="12.8" fill="#000" stroke="#000" stroke-width="0.25" textLength="115.6" lengthAdjust="spacing">Observed Depth (m)</text>
</svg>
</body></html>
